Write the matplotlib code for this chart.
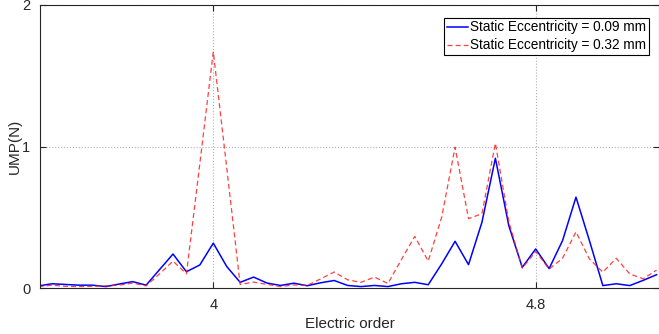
import numpy as np
import matplotlib.pyplot as plt

plt.rcParams['font.family'] = ['Liberation Sans', 'DejaVu Sans']

# electric order axis, step 1/30 around the 4th order
order = 4 + np.arange(-13, 34) / 30.0

ump_009 = [0.015, 0.03, 0.025, 0.02, 0.02, 0.01, 0.028, 0.045, 0.02, 0.13,
           0.24, 0.115, 0.163, 0.317, 0.152, 0.04, 0.077, 0.035, 0.018, 0.034,
           0.016, 0.037, 0.053, 0.018, 0.01, 0.018, 0.01, 0.03, 0.04, 0.023,
           0.17, 0.33, 0.165, 0.465, 0.917, 0.44, 0.146, 0.276, 0.137, 0.335,
           0.642, 0.335, 0.017, 0.03, 0.017, 0.054, 0.094]

ump_032 = [0.01, 0.02, 0.012, 0.01, 0.012, 0.015, 0.02, 0.035, 0.015, 0.1,
           0.19, 0.1, 0.88, 1.67, 0.85, 0.025, 0.042, 0.025, 0.01, 0.022,
           0.018, 0.065, 0.113, 0.058, 0.04, 0.077, 0.032, 0.2, 0.365, 0.19,
           0.5, 0.995, 0.49, 0.525, 1.023, 0.47, 0.14, 0.258, 0.134, 0.21,
           0.397, 0.205, 0.112, 0.21, 0.1, 0.065, 0.126]

labels = ['Static Eccentricity = 0.09 mm', 'Static Eccentricity = 0.32 mm']

fig = plt.figure(figsize=(6.59, 3.34), dpi=100)
ax = fig.add_axes([40 / 659, 46 / 334, 619 / 659, 283 / 334])

ax.plot(order, ump_009, color='#0000ff', lw=1.1, label=labels[0])
ax.plot(order, ump_032, color='#ff2020', lw=0.9, dashes=(4, 2.5), alpha=0.85,
        label=labels[1])

ax.set_xlim(3.57, 5.106)
ax.set_ylim(0, 2)
ax.set_xticks([4, 4.8])
ax.set_xticklabels(['4', '4.8'])
ax.set_yticks([0, 1, 2])
ax.tick_params(direction='in', top=True, right=True, labelsize=10.5,
               length=4, width=0.8, colors='#262626', pad=7)
ax.grid(True, color='#b0b0b0', linestyle=':', linewidth=0.8)
for sp in ax.spines.values():
    sp.set_color('#262626')
    sp.set_linewidth(0.8)

ax.set_xlabel('Electric order', fontsize=11, color='#262626', labelpad=4)
ax.set_ylabel('UMP(N)', fontsize=11, color='#262626', labelpad=0)

leg = ax.legend(loc='upper right', bbox_to_anchor=(0.984, 0.955), fontsize=9.8,
                fancybox=False, framealpha=1, edgecolor='black',
                handlelength=1.6, handletextpad=0.15, borderpad=0.2,
                labelspacing=0.28, borderaxespad=0)
leg.get_frame().set_linewidth(0.8)

fig.savefig('out.png', dpi=100)
